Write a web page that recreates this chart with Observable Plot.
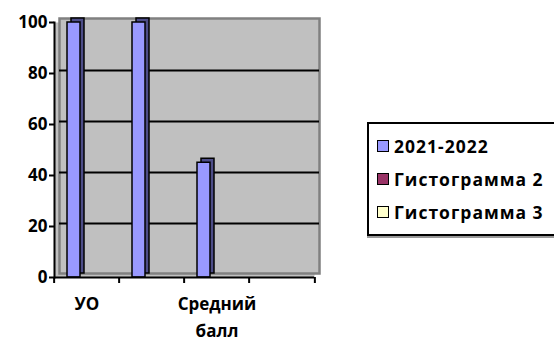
<!DOCTYPE html>
<html>
<head>
<meta charset="utf-8">
<script src="https://cdn.jsdelivr.net/npm/d3@7"></script>
<script src="https://cdn.jsdelivr.net/npm/@observablehq/plot@0.6"></script>
<style>
  body { margin: 0; background: #fff; }
  #wrap { position: relative; width: 554px; height: 343px; overflow: hidden; font-family: "Open Sans", sans-serif; font-weight: 700; }
  #legend { position: absolute; left: 367px; top: 122px; width: 200px; height: 110px; border: 2px solid #000; box-shadow: 0 2px 0 #999; background: #fff; }
  .item { position: absolute; left: 8px; display: flex; align-items: center; font-size: 17.5px; letter-spacing: 1px; color: #000; white-space: nowrap; }
  .sw { width: 10px; height: 10px; border: 1.5px solid #000; margin-right: 5px; }
</style>
</head>
<body>
<div id="wrap"><div id="chart"></div><div id="legend"></div></div>
<script>
const categories = ["УО", "Категория 2", "Средний балл", "Категория 4"];
const tickLabels = ["УО", "", "Средний балл", ""];
const seriesNames = ["2021-2022", "Гистограмма 2", "Гистограмма 3"];
const seriesColors = ["#9999FF", "#993366", "#FFFFCC"];
const series1 = [100, 100, 45, null];
const series2 = [null, null, null, null];
const series3 = [null, null, null, null];
const yTicks = [0, 20, 40, 60, 80, 100];
const gridValues = [20, 40, 60, 80];

const allSeries = [series1, series2, series3];
const data = [];
categories.forEach((c, i) => {
  allSeries.forEach((s, j) => {
    data.push({category: c, series: seriesNames[j], value: s[i]});
  });
});

const W = 340, H = 343, mL = 52, mR = 25, mT = 22, mB = 66;
const bw = (W - mL - mR) / categories.length;

const chart = Plot.plot({
  width: W, height: H,
  marginLeft: mL, marginRight: mR, marginTop: mT, marginBottom: mB,
  style: {fontFamily: "Open Sans", fontWeight: 700, fontSize: "17px", color: "#000", background: "transparent", overflow: "visible"},
  fx: {domain: categories, padding: 0, axis: null, label: null},
  x: {domain: seriesNames, padding: 0, paddingOuter: 1.0, axis: null, label: null},
  y: {domain: [0, 100], axis: null, label: null},
  marks: [
    Plot.frame({facet: "super", fill: "#C0C0C0", stroke: null}),
    Plot.frame({facet: "super", fill: "#C0C0C0", stroke: "#808080", strokeWidth: 2.5, dx: 5, dy: -4}),
    Plot.ruleY(gridValues, {stroke: "#000", strokeWidth: 2, dx: 5, dy: -3}),
    Plot.barY(data, {fx: "category", x: "series", y: "value", filter: (d) => d.value != null, fill: "#4D4D88", stroke: "#000", strokeWidth: 1.5, dx: 4, dy: -4}),
    Plot.barY(data, {fx: "category", x: "series", y: "value", filter: (d) => d.value != null, fill: (d) => seriesColors[seriesNames.indexOf(d.series)], stroke: "#000", strokeWidth: 1.5}),
    Plot.dot(data, {fx: "category", x: "series", y: 0, r: 0, stroke: null}),
    Plot.ruleY([0], {stroke: "#000", strokeWidth: 2}),
    Plot.frame({facet: "super", anchor: "left", stroke: "#000", strokeWidth: 2}),
    Plot.axisY({ticks: yTicks, tickSize: 5, tickPadding: 2, letterSpacing: 1, strokeWidth: 2, label: null}),
    Plot.axisFx({anchor: "bottom", label: null, tickSize: 6, tickFormat: () => "", dx: -bw / 2, strokeWidth: 2}),
    Plot.axisFx({anchor: "bottom", label: null, ticks: [categories[categories.length - 1]], tickSize: 6, tickFormat: () => "", dx: bw / 2, strokeWidth: 2}),
    Plot.axisFx({anchor: "bottom", label: null, tickSize: 0, tickPadding: 13, lineHeight: 1.6, letterSpacing: 1,
      tickFormat: (d) => tickLabels[categories.indexOf(d)].replace(" ", "\n")})
  ]
});
document.getElementById("chart").appendChild(chart);

const legend = document.getElementById("legend");
const tops = [10, 43, 76];
seriesNames.forEach((n, i) => {
  const it = document.createElement("div");
  it.className = "item";
  it.style.top = tops[i] + "px";
  const sw = document.createElement("span");
  sw.className = "sw";
  sw.style.background = seriesColors[i];
  const t = document.createElement("span");
  t.textContent = n;
  it.appendChild(sw); it.appendChild(t);
  legend.appendChild(it);
});
</script>
</body>
</html>
